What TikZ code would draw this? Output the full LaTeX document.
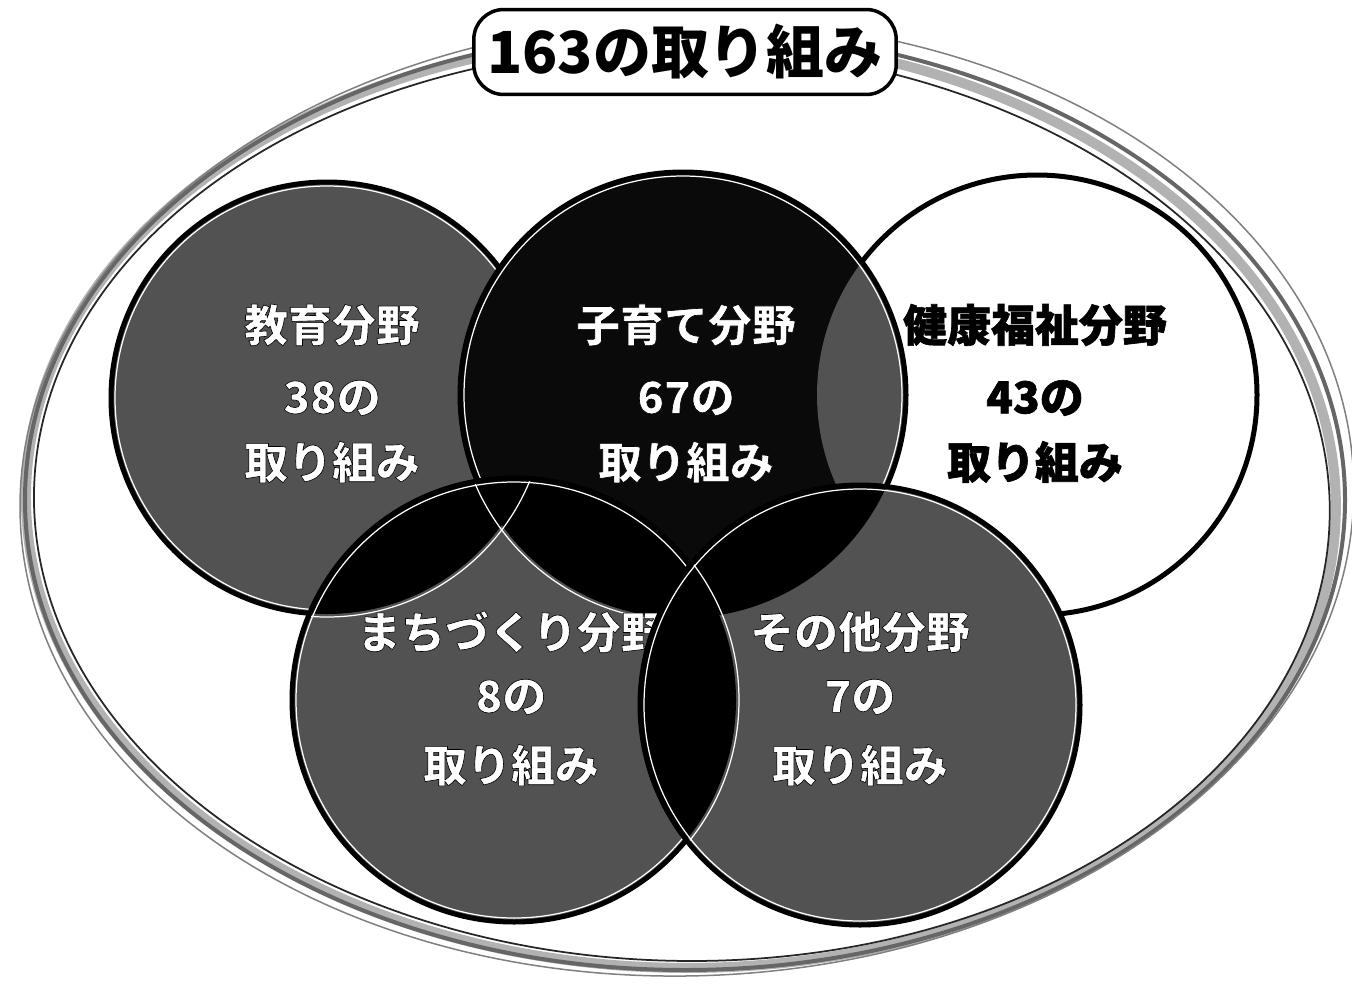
\documentclass[tikz,border=0pt]{standalone}
\usepackage{fontspec}
\newfontfamily\jp{Noto Sans CJK JP}
\newfontfamily\jpx{Noto Sans CJK JP}[BoldFeatures={FakeBold=1.4}]
\newcommand\wtx[1]{\special{pdf:literal direct 0 G 1.2 w 1 j 2 Tr}#1\special{pdf:literal direct 0 Tr}}
\begin{document}
\begin{tikzpicture}[x=0.02cm,y=-0.02cm,
  rim/.style={draw=black, line width=0.1cm},
  inrim/.style={draw=white, line width=0.7pt},
  areafill/.style={fill=black!68},
  wlbl/.style={font=\jpx\bfseries\fontsize{25pt}{25pt}\selectfont, text=white, inner sep=0pt},
  blbl/.style={font=\jpx\bfseries\fontsize{25pt}{25pt}\selectfont, text=black, inner sep=0pt},
  sketch/.style={line cap=round}]
\useasboundingbox (0,0) rectangle (1352,994);
\fill[white] (0,0) rectangle (1352,994);

% outer sketchy ellipse
\coordinate (O) at (685,500);
\draw[sketch, black!30, line width=0.2cm, rotate around={-0.8:(O)}] ([shift={(-4,2)}]O) ellipse[x radius=655, y radius=466];
\draw[sketch, black!60, line width=0.08cm] (O) ellipse[x radius=660, y radius=470];
\draw[sketch, black!85, line width=0.035cm, rotate around={-1.2:(O)}] ([shift={(-3,4)}]O) ellipse[x radius=648, y radius=457];
\draw[sketch, black!50, line width=0.03cm, rotate around={1.5:(O)}] ([shift={(2,-2)}]O) ellipse[x radius=667, y radius=478];

% circle centres
\coordinate (A) at (327,398);
\coordinate (B) at (683,395);
\coordinate (C) at (1037,395);
\coordinate (D) at (514,700);
\coordinate (E) at (860,705);
\def\pA{(A) circle[radius=216]}
\def\pB{(B) circle[radius=223]}
\def\pC{(C) circle[radius=220]}
\def\pD{(D) circle[radius=222]}
\def\pE{(E) circle[radius=220]}

% health (white)
\fill[white] \pC;
\draw[rim] \pC;

% education
\fill[areafill] \pA;
\draw[rim] \pA;
\draw[inrim] (A) circle[radius=212];

% child rearing
\fill[black!96] \pB;
\begin{scope}
  \clip \pB;
  \fill[areafill] \pC;
\end{scope}
\draw[rim] \pB;
\draw[inrim] (B) circle[radius=219];

% town planning
\fill[areafill] \pD;
\begin{scope}
  \clip \pD;
  \fill[black] \pA;
  \fill[black] \pB;
  \draw[inrim] (A) circle[radius=219];
  \draw[inrim] (B) circle[radius=226];
\end{scope}
\draw[rim] \pD;
\draw[inrim] (D) circle[radius=218];

\node[wlbl] (D1) at (511,632) {\wtx{まちづくり分野}};
\node[wlbl] (D2) at (511,697) {\wtx{8の}};
\node[wlbl] (D3) at (511,765) {\wtx{取り組み}};

% others
\fill[areafill] \pE;
\begin{scope}
  \clip \pE;
  \fill[black] \pB;
  \fill[black] \pD;
  \draw[inrim] (D) circle[radius=225];
\end{scope}
\draw[rim] \pE;
\draw[inrim] (E) circle[radius=216];

% labels
\node[wlbl] (A1) at (332,325) {\wtx{教育分野}};
\node[wlbl] (A2) at (332,398) {\wtx{38の}};
\node[wlbl] (A3) at (332,462) {\wtx{取り組み}};

\node[wlbl] (B1) at (686,325) {\wtx{子育て分野}};
\node[wlbl] (B2) at (686,398) {\wtx{67の}};
\node[wlbl] (B3) at (686,462) {\wtx{取り組み}};

\node[blbl] (C1) at (1035,325) {健康福祉分野};
\node[blbl] (C2) at (1035,398) {43の};
\node[blbl] (C3) at (1035,462) {取り組み};

\node[wlbl] (E1) at (860,632) {\wtx{その他分野}};
\node[wlbl] (E2) at (860,697) {\wtx{7の}};
\node[wlbl] (E3) at (860,765) {\wtx{取り組み}};

% title
\node[draw=black, fill=white, line width=0.07cm, rounded corners=0.6cm,
      minimum width=8.45cm, minimum height=1.7cm,
      font=\jp\bfseries\fontsize{33pt}{33pt}\selectfont] (title) at (685,52) {163の取り組み};
\end{tikzpicture}
\end{document}
